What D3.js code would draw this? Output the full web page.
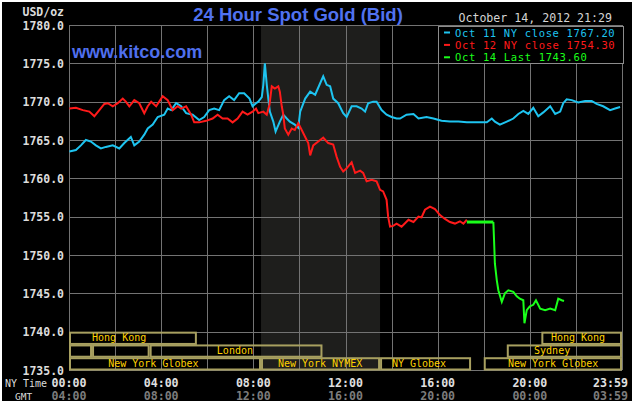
<!DOCTYPE html>
<html><head><meta charset="utf-8">
<script src="https://cdn.jsdelivr.net/npm/d3@7"></script>
<style>body{margin:0;background:#fff}svg{display:block}</style>
</head><body><svg id="c" width="635" height="405"></svg>
<script>
// minutes since 00:00 NY time, price
const oct11 = [[1,1763.5],[18,1763.7],[31,1764.3],[44,1765],[57,1764.8],[70,1764.3],[83,1763.9],[96,1764.1],[114,1764.3],[131,1763.9],[144,1764.6],[161,1765.4],[170,1764.3],[183,1764.8],[196,1765.7],[205,1766.5],[218,1767],[231,1768],[248,1768.3],[257,1769.1],[266,1768.9],[279,1769.8],[292,1769.4],[305,1768.5],[322,1768.3],[339,1767.6],[352,1768],[365,1768.9],[378,1769.1],[391,1768.9],[404,1770.2],[417,1770.7],[430,1770.2],[443,1771.1],[456,1771.1],[470,1770.4],[478,1769.4],[487,1769.8],[493,1770],[502,1770.6],[506,1772.2],[510,1775],[515,1772.2],[519,1770.4],[523,1768.7],[532,1767.4],[538,1766.1],[549,1767.4],[558,1768.3],[567,1767.8],[575,1767.4],[588,1767],[597,1766.6],[602,1768.7],[615,1770.4],[628,1771.3],[641,1770.9],[654,1772.4],[662,1773.3],[671,1772.2],[680,1772],[688,1770.4],[701,1769.8],[714,1768.5],[723,1768],[736,1769.4],[749,1769.4],[762,1769.1],[771,1768.7],[779,1769.8],[792,1770],[801,1770],[814,1768.9],[827,1768.3],[840,1768],[853,1767.8],[862,1767.8],[879,1768.3],[897,1768.4],[910,1767.8],[931,1768],[949,1767.8],[970,1767.5],[992,1767.4],[1014,1767.4],[1036,1767.3],[1062,1767.3],[1088,1767.3],[1101,1767.8],[1109,1767.4],[1122,1767],[1140,1767.4],[1157,1767.8],[1170,1768.4],[1183,1768.8],[1196,1768.4],[1209,1769.2],[1222,1768.1],[1235,1768.6],[1253,1769.4],[1266,1768.4],[1279,1768.7],[1287,1769.8],[1296,1770.3],[1309,1770.2],[1326,1769.9],[1344,1770.1],[1361,1770.1],[1374,1769.7],[1391,1769.4],[1409,1768.9],[1422,1769.1],[1435,1769.3]];
const oct12 = [[1,1769.1],[18,1769.2],[36,1768.9],[53,1768.7],[66,1768.1],[79,1768.9],[92,1769.7],[101,1769.8],[114,1769.4],[127,1769.8],[140,1770.4],[148,1770],[157,1769.4],[170,1770.2],[183,1769.8],[196,1768.5],[205,1769.4],[214,1770],[227,1769.4],[244,1770.7],[257,1770.2],[270,1768.9],[283,1769.4],[292,1769.1],[305,1769.4],[318,1768.3],[326,1767.3],[339,1767.3],[357,1767.5],[374,1767.8],[387,1768.3],[400,1767.8],[413,1767.8],[426,1767.3],[439,1767.8],[452,1768.7],[465,1768.3],[478,1768.7],[487,1769.1],[493,1768.5],[506,1768.7],[515,1768.3],[522,1769.6],[528,1772],[536,1771.7],[545,1772],[549,1771.3],[554,1769.4],[558,1768.3],[562,1766.5],[571,1765.7],[580,1766.5],[588,1766.3],[597,1767.2],[606,1766.3],[615,1765.4],[623,1764.6],[628,1763],[636,1764.3],[654,1765],[662,1765.3],[675,1764.6],[688,1764.4],[697,1762.8],[706,1761.5],[714,1760.9],[723,1761.3],[736,1762.1],[745,1760.7],[758,1761],[766,1760.7],[775,1759.6],[788,1759.8],[801,1759.6],[810,1758.5],[818,1758.3],[827,1757.2],[831,1755],[836,1753.7],[844,1753.8],[853,1754.1],[866,1753.7],[884,1754.6],[897,1754.3],[910,1755],[918,1754.9],[927,1755.9],[940,1756.3],[953,1756],[966,1755.2],[979,1754.7],[992,1754.3],[1005,1754.1],[1018,1754.4],[1027,1754.1],[1036,1754.6]];
const oct14Flat = [[1036,1754.3],[1105,1754.3]];
const oct14 = [[1105,1754.3],[1107,1751.7],[1109,1748.9],[1114,1746.7],[1118,1745.4],[1127,1743.9],[1135,1745],[1144,1745.4],[1157,1745.2],[1166,1744.6],[1174,1744.3],[1183,1744.1],[1186,1741.1],[1192,1742.8],[1200,1743.3],[1209,1743.5],[1216,1744.1],[1227,1743],[1240,1742.8],[1253,1743],[1266,1742.8],[1274,1744.3],[1283,1744.1],[1289,1744]];

const yTicks = [1735,1740,1745,1750,1755,1760,1765,1770,1775,1780];
const gridTimes = [0,120,240,360,480,600,720,840,960,1080,1200,1320,1440];
const labelTimes = [0,240,480,720,960,1200,1439];
const nyTimeLabels = ["00:00","04:00","08:00","12:00","16:00","20:00","23:59"];
const gmtLabels = ["04:00","08:00","12:00","16:00","20:00","00:00","03:59"];
const nymexHours = [500, 810];
// row, start, end, label, label start time
const sessions = [
  {row:0, start:0, end:333, name:"Hong Kong", labelAt:60},
  {row:0, start:1230, end:1440, name:"Hong Kong", labelAt:1255},
  {row:1, start:0, end:60, name:"", labelAt:0},
  {row:1, start:60, end:210, name:"", labelAt:60},
  {row:1, start:210, end:660, name:"London", labelAt:385},
  {row:1, start:1140, end:1440, name:"Sydney", labelAt:1211},
  {row:2, start:0, end:500, name:"New York Globex", labelAt:102},
  {row:2, start:500, end:810, name:"New York NYMEX", labelAt:544},
  {row:2, start:810, end:1047, name:"NY Globex", labelAt:841},
  {row:2, start:1080, end:1440, name:"New York Globex", labelAt:1143}
];
const legendLabels = ["Oct 11 NY close 1767.20","Oct 12 NY close 1754.30","Oct 14 Last 1743.60"];
const seriesColors = ["#1ec4f0","#ff1a1a","#1aff1a"];

const svg = d3.select("#c");
const mono = "'DejaVu Sans Mono', 'Liberation Mono', monospace";
const x = d3.scaleLinear().domain([0,1440]).range([69,622]);
const y = d3.scaleLinear().domain([1735,1780]).range([370,25]);

svg.append("rect").attr("x",2).attr("y",2).attr("width",630).attr("height",399).attr("fill","#000");

// NYMEX shaded hours
svg.append("rect").attr("x",x(nymexHours[0])).attr("y",y(1780))
  .attr("width",x(nymexHours[1])-x(nymexHours[0])).attr("height",y(1735)-y(1780))
  .attr("fill","#1e1e1c");

// grid
const grid = svg.append("g").attr("stroke","#737373").attr("stroke-width",1);
grid.selectAll("line.v").data(gridTimes).join("line").attr("class","v")
  .attr("x1",d=>Math.round(x(d))+0.5).attr("x2",d=>Math.round(x(d))+0.5)
  .attr("y1",y(1780)).attr("y2",y(1735));
grid.selectAll("line.h").data(yTicks).join("line").attr("class","h")
  .attr("y1",d=>Math.round(y(d))+0.5).attr("y2",d=>Math.round(y(d))+0.5)
  .attr("x1",x(0)).attr("x2",x(1440));

// y axis labels
const yAxis = svg.append("g").attr("transform",`translate(${x(0)-5},0)`)
  .call(d3.axisLeft(y).tickValues(yTicks).tickSize(0).tickPadding(0).tickFormat(d3.format(".1f")));
yAxis.select(".domain").remove();
yAxis.selectAll("text").attr("fill","#dcdcdc").attr("font-family",mono)
  .attr("font-size","11.5px").attr("font-weight","bold").attr("dy","0.36em");
svg.append("text").attr("x",x(0)-5).attr("y",16).attr("text-anchor","end")
  .attr("fill","#dcdcdc").attr("font-family",mono).attr("font-size","11.5px").attr("font-weight","bold").text("USD/oz");

// session boxes
const rowH = (y(1735)-y(1740))/3;
const sess = svg.append("g");
sess.selectAll("rect").data(sessions).join("rect")
  .attr("x",d=>x(d.start)+1).attr("width",d=>x(d.end)-x(d.start)-2)
  .attr("y",d=>y(1740)+d.row*rowH+1).attr("height",rowH-1.5)
  .attr("fill","none").attr("stroke","#a8a060").attr("stroke-width",2);
sess.selectAll("text").data(sessions).join("text")
  .attr("x",d=>x(d.labelAt)).attr("y",d=>y(1740)+d.row*rowH+rowH-3)
  .attr("fill","#ffd200").attr("font-family",mono).attr("font-size","10px")
  .text(d=>d.name);

// lines
const line = d3.line().x(d=>x(d[0])).y(d=>y(d[1]));
svg.append("path").datum(oct11).attr("d",line).attr("fill","none").attr("stroke",seriesColors[0]).attr("stroke-width",2);
svg.append("path").datum(oct12).attr("d",line).attr("fill","none").attr("stroke",seriesColors[1]).attr("stroke-width",2);
svg.append("path").datum(oct14Flat).attr("d",line).attr("fill","none").attr("stroke",seriesColors[2]).attr("stroke-width",3);
svg.append("path").datum(oct14).attr("d",line).attr("fill","none").attr("stroke",seriesColors[2]).attr("stroke-width",2);

// titles
svg.append("text").attr("x",298).attr("y",21).attr("text-anchor","middle")
  .attr("fill","#5072f0").attr("font-family","'Liberation Sans', Arial, sans-serif")
  .attr("font-size","18.5px").attr("font-weight","bold").text("24 Hour Spot Gold (Bid)");
svg.append("text").attr("x",72).attr("y",58)
  .attr("fill","#4f6fee").attr("font-family","'Liberation Sans', Arial, sans-serif")
  .attr("font-size","18px").attr("font-weight","bold").text("www.kitco.com");
svg.append("text").attr("x",612).attr("y",22).attr("text-anchor","end")
  .attr("fill","#d4d4d4").attr("font-family",mono).attr("font-size","11.6px").text("October 14, 2012 21:29");

// legend
const lg = svg.append("g");
lg.append("rect").attr("x",438.5).attr("y",26.5).attr("width",185).attr("height",37)
  .attr("fill","#000").attr("stroke","#8c8c8c").attr("stroke-width",1);
legendLabels.forEach((t,i)=>{
  const by = 36.5 + i*12.4;
  lg.append("rect").attr("x",444).attr("y",by-5).attr("width",6).attr("height",2).attr("fill",seriesColors[i]);
  lg.append("text").attr("x",455).attr("y",by).attr("fill",seriesColors[i])
    .attr("font-family",mono).attr("font-size","10.5px").attr("letter-spacing","0.65px").text(t);
});

// bottom labels
svg.append("text").attr("x",5).attr("y",387).attr("fill","#dcdcdc").attr("font-family",mono).attr("font-size","10px").text("NY Time");
svg.append("text").attr("x",15).attr("y",400).attr("fill","#dcdcdc").attr("font-family",mono).attr("font-size","9.5px").text("GMT");
const bl = svg.append("g");
bl.selectAll("text.ny").data(labelTimes).join("text").attr("class","ny")
  .attr("x",(d,i)=> i===labelTimes.length-1 ? 628 : x(d))
  .attr("y",387).attr("text-anchor",(d,i)=> i===labelTimes.length-1 ? "end" : "middle")
  .attr("fill","#e0e0e0").attr("font-family",mono).attr("font-size","11.6px").attr("font-weight","bold")
  .text((d,i)=>nyTimeLabels[i]);
bl.selectAll("text.gmt").data(labelTimes).join("text").attr("class","gmt")
  .attr("x",(d,i)=> i===labelTimes.length-1 ? 628 : x(d))
  .attr("y",400).attr("text-anchor",(d,i)=> i===labelTimes.length-1 ? "end" : "middle")
  .attr("fill","#7c7c7c").attr("font-family",mono).attr("font-size","11.6px").attr("font-weight","bold")
  .text((d,i)=>gmtLabels[i]);
</script></body></html>
